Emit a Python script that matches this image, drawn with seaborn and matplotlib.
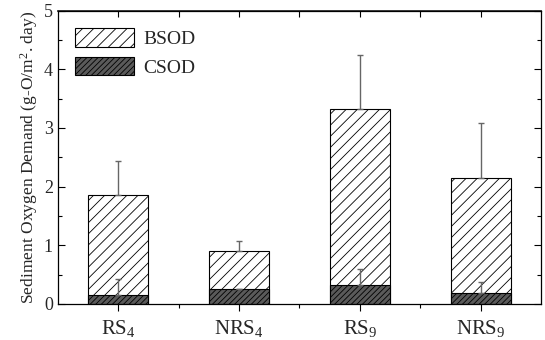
import numpy as np
import matplotlib
matplotlib.use("Agg")
import matplotlib.pyplot as plt
import seaborn as sns
import pandas as pd
from matplotlib.ticker import MultipleLocator, FixedLocator

categories = ["RS$_4$", "NRS$_4$", "RS$_9$", "NRS$_9$"]
bsod_total = [1.86, 0.91, 3.32, 2.14]
bsod_err = [0.57, 0.16, 0.92, 0.94]
csod = [0.16, 0.25, 0.33, 0.18]
csod_err = [0.27, 0.01, 0.27, 0.20]

sns.set_theme(style="white")
plt.rcParams['font.family'] = 'serif'
plt.rcParams['font.serif'] = ['Liberation Serif', 'Times New Roman', 'DejaVu Serif']
plt.rcParams['mathtext.fontset'] = 'custom'
plt.rcParams['mathtext.rm'] = 'Liberation Serif'
plt.rcParams['mathtext.it'] = 'Liberation Serif:italic'
plt.rcParams['mathtext.sf'] = 'Liberation Serif'
plt.rcParams['hatch.linewidth'] = 0.6

df = pd.DataFrame({"site": categories, "total": bsod_total, "csod": csod})

fig, ax = plt.subplots(figsize=(5.45, 3.40), dpi=100)
fig.subplots_adjust(left=0.106, right=0.993, top=0.969, bottom=0.106)

sns.barplot(data=df, x="site", y="total", ax=ax, color="white", edgecolor="black",
            linewidth=0.8, hatch="///", width=0.5, label="BSOD", saturation=1)
sns.barplot(data=df, x="site", y="csod", ax=ax, color="#5a5a5a", edgecolor="black",
            linewidth=0.8, hatch="//////", width=0.5, label="CSOD", saturation=1)

pos = np.arange(len(categories))
zeros = np.zeros(len(categories))
ax.errorbar(pos, bsod_total, yerr=[zeros, bsod_err], fmt="none", ecolor="#666666",
            elinewidth=1.0, capsize=2.5, capthick=1.0, zorder=5)
ax.errorbar(pos, csod, yerr=[zeros, csod_err], fmt="none", ecolor="#666666",
            elinewidth=1.0, capsize=2.5, capthick=1.0, zorder=5)

ax.set_xlim(-0.5, 3.5)
ax.set_ylim(0, 5)
ax.set_xlabel("")
ax.set_ylabel("Sediment Oxygen Demand (g-O/m$^2$. day)", fontsize=12.6, labelpad=3)
ax.set_xticks(pos)
ax.set_xticklabels(categories, fontsize=15)
ax.yaxis.set_major_locator(MultipleLocator(1))
ax.yaxis.set_minor_locator(MultipleLocator(0.5))
ax.xaxis.set_minor_locator(FixedLocator([0.5, 1.5, 2.5]))
ax.tick_params(axis="y", which="both", direction="in", right=True, left=True, labelsize=13,
               length=5, width=0.8, color="black")
ax.tick_params(axis="y", which="minor", length=3)
ax.tick_params(axis="x", which="major", direction="out", bottom=True, length=5, width=0.8,
               color="black", pad=5)
ax.tick_params(axis="x", which="minor", direction="out", bottom=True, length=3, width=0.8,
               color="black")
for s in ax.spines.values():
    s.set_color("black")
    s.set_linewidth(0.9)

top = ax.secondary_xaxis('top')
top.set_xticks([-0.5 + 0.5 * i for i in range(1, 8)])
top.tick_params(direction="in", length=4, width=0.8, labeltop=False, color="black")
top.set_xticklabels([])

leg = ax.legend(loc="upper left", frameon=False, fontsize=14, handlelength=3.0,
                handleheight=1.1, borderaxespad=0.5, labelspacing=0.45, handletextpad=0.5)

fig.savefig("out.png", dpi=100)
